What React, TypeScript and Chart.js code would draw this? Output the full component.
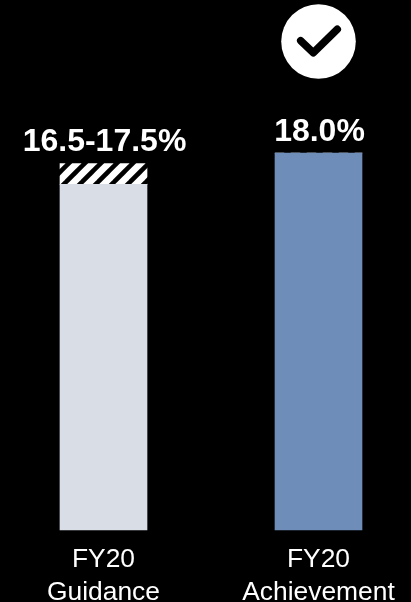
import React, { useEffect, useRef } from "react";
import { Chart, registerables } from "chart.js";

Chart.register(...registerables);

const categories = [["FY20", "Guidance"], ["FY20", "Achievement"]];
const solidValues = [16.5, 18.0];
const rangeValues = [1.0, 0];
const valueLabels = ["16.5-17.5%", "18.0%"];
const achievedIndex = 1;

const FONT = '"Liberation Sans", Arial, sans-serif';

function makeHatch(): CanvasPattern | string {
  const size = 16;
  const c = document.createElement("canvas");
  c.width = size;
  c.height = size;
  const g = c.getContext("2d");
  if (!g) return "#fff";
  g.fillStyle = "#000";
  g.fillRect(0, 0, size, size);
  g.strokeStyle = "#fff";
  g.lineWidth = 6.6;
  g.lineCap = "square";
  for (const o of [-size, 0, size]) {
    g.beginPath();
    g.moveTo(o - 2, size + 2);
    g.lineTo(o + size + 2, -2);
    g.stroke();
  }
  return g.createPattern(c, "repeat") ?? "#fff";
}

const annotations = {
  id: "annotations",
  afterDatasetsDraw(chart: any) {
    const { ctx, scales } = chart;
    ctx.save();
    ctx.fillStyle = "#fff";
    ctx.font = `bold 32px ${FONT}`;
    ctx.textAlign = "center";
    ctx.textBaseline = "alphabetic";
    valueLabels.forEach((t, i) => {
      const x = scales.x.getPixelForValue(i);
      const top = scales.y.getPixelForValue(solidValues[i] + rangeValues[i]);
      ctx.fillText(t, x + 1, top - 12.5);
    });
    const cx = scales.x.getPixelForValue(achievedIndex);
    const cy = scales.y.getPixelForValue(solidValues[achievedIndex]) - 111.5;
    ctx.beginPath();
    ctx.arc(cx, cy, 37.3, 0, Math.PI * 2);
    ctx.fill();
    ctx.strokeStyle = "#000";
    ctx.lineWidth = 7.5;
    ctx.lineCap = "round";
    ctx.lineJoin = "round";
    ctx.beginPath();
    ctx.moveTo(cx - 17.8, cy - 0.8);
    ctx.lineTo(cx - 5.2, cy + 11.2);
    ctx.lineTo(cx + 18.8, cy - 12.2);
    ctx.stroke();
    ctx.restore();
  },
};

export default function App() {
  const ref = useRef<HTMLCanvasElement>(null);
  useEffect(() => {
    document.body.style.margin = "0";
    document.body.style.background = "#000";
    if (!ref.current) return;
    const chart = new Chart(ref.current, {
      type: "bar",
      data: {
        labels: categories,
        datasets: [
          {
            data: solidValues,
            backgroundColor: ["#D9DDE6", "#6E8DB8"],
            barThickness: 87,
            borderWidth: 0,
            clip: false,
          },
          {
            data: rangeValues,
            backgroundColor: makeHatch(),
            barThickness: 87,
            borderWidth: 0,
            clip: false,
          },
        ],
      } as any,
      plugins: [annotations],
      options: {
        animation: false,
        responsive: false,
        devicePixelRatio: 1,
        layout: { padding: { left: 103.5, right: 92.5, top: 153, bottom: 0 } },
        plugins: { legend: { display: false }, tooltip: { enabled: false } },
        scales: {
          x: {
            stacked: true,
            offset: false,
            grid: { display: false },
            border: { display: false },
            afterFit(scale: any) {
              scale.height = 72;
            },
            ticks: {
              color: "#fff",
              font: { family: FONT, size: 26.4, lineHeight: 1.22 },
              autoSkip: false,
              maxRotation: 0,
              minRotation: 0,
              padding: 6,
            },
          },
          y: {
            stacked: true,
            display: false,
            min: 0,
            max: 18,
          },
        },
      } as any,
    });
    return () => chart.destroy();
  }, []);
  return (
    <div style={{ position: "absolute", left: 0, top: 0, width: 411, height: 602, background: "#000" }}>
      <canvas ref={ref} width={411} height={602} style={{ display: "block" }} />
    </div>
  );
}
